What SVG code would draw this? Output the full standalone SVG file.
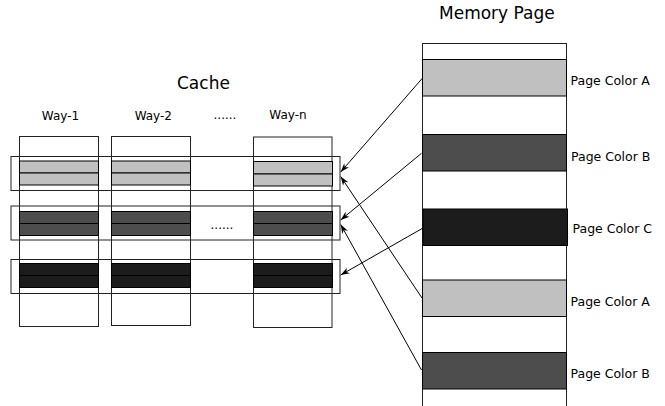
<svg xmlns="http://www.w3.org/2000/svg" width="665" height="406" viewBox="0 0 665 406">
<defs>
<style>
text{font-family:"DejaVu Sans",sans-serif;fill:#000}
.t{font-size:17px}
.w{font-size:12px;text-anchor:middle}
.p{font-size:12.5px}
.col{fill:#fff;stroke:#222;stroke-width:1}
.set{fill:none;stroke:#222;stroke-width:1}
.la{fill:#c0c0c0;stroke:#000;stroke-width:1}
.da{fill:#4d4d4d;stroke:#000;stroke-width:1}
.bk{fill:#1c1c1c;stroke:#000;stroke-width:1}
.ln{stroke:#000;stroke-width:1;fill:none;marker-end:url(#ah)}
</style>
<marker id="ah" viewBox="0 0 10 10" refX="10" refY="5" markerWidth="9" markerHeight="9" markerUnits="userSpaceOnUse" orient="auto">
<path d="M0,1.5 L10,5 L0,8.5 L3,5 Z" fill="#000"/>
</marker>
</defs>
<rect width="665" height="406" fill="#fff"/>
<text class="t" x="439" y="18.5">Memory Page</text>
<text class="t" x="177" y="89">Cache</text>
<g id="way-1">
<text class="w" x="60.5" y="119.5">Way-1</text>
<rect class="col" x="19.5" y="136.5" width="79" height="190"/>
<rect class="la" x="19.5" y="161" width="79" height="12"/>
<rect class="la" x="19.5" y="173" width="79" height="12"/>
<rect class="da" x="19.5" y="211.5" width="79" height="12"/>
<rect class="da" x="19.5" y="223.5" width="79" height="12"/>
<rect class="bk" x="19.5" y="263.5" width="79" height="12"/>
<rect class="bk" x="19.5" y="275.5" width="79" height="12"/>
</g>
<g id="way-2">
<text class="w" x="153.3" y="119.5">Way-2</text>
<rect class="col" x="111.5" y="136.5" width="79" height="189"/>
<rect class="la" x="111.5" y="161" width="79" height="12"/>
<rect class="la" x="111.5" y="173" width="79" height="12"/>
<rect class="da" x="111.5" y="211.5" width="79" height="12"/>
<rect class="da" x="111.5" y="223.5" width="79" height="12"/>
<rect class="bk" x="111.5" y="263.5" width="79" height="12"/>
<rect class="bk" x="111.5" y="275.5" width="79" height="12"/>
</g>
<text class="w" x="225" y="118.5">......</text>
<text class="w" x="222" y="228.5">......</text>
<g id="way-n">
<text class="w" x="288" y="118.5">Way-n</text>
<rect class="col" x="253.5" y="137" width="78.5" height="190.5"/>
<rect class="la" x="253.5" y="161.5" width="79" height="12.5"/>
<rect class="la" x="253.5" y="174" width="79" height="12"/>
<rect class="da" x="253.5" y="211.5" width="79" height="12"/>
<rect class="da" x="253.5" y="223.5" width="79" height="12"/>
<rect class="bk" x="253.5" y="263.5" width="79" height="12"/>
<rect class="bk" x="253.5" y="275.5" width="79" height="12"/>
</g>
<g id="sets">
<rect class="set" x="11" y="156.5" width="329" height="34"/>
<rect class="set" x="11" y="206" width="329" height="34"/>
<rect class="set" x="11" y="259.5" width="329" height="34"/>
</g>
<g id="memory-page">
<rect class="col" x="422.5" y="43.5" width="144" height="370"/>
<rect class="la" x="422.5" y="59.5" width="144" height="36.5"/>
<rect class="da" x="422.5" y="134.5" width="144" height="36.5"/>
<rect class="bk" x="423" y="209" width="144.5" height="36.5"/>
<rect class="la" x="422.5" y="280" width="144" height="36.5"/>
<rect class="da" x="422.5" y="352.5" width="144" height="36.5"/>
<text class="p" x="570.5" y="84.5">Page Color A</text>
<text class="p" x="571" y="160.5">Page Color B</text>
<text class="p" x="572.5" y="233">Page Color C</text>
<text class="p" x="570.5" y="306">Page Color A</text>
<text class="p" x="570.5" y="378">Page Color B</text>
</g>
<g id="connectors">
<line class="ln" x1="422.3" y1="78.3" x2="340.7" y2="172"/>
<line class="ln" x1="422" y1="298" x2="340.7" y2="176.5"/>
<line class="ln" x1="421.5" y1="153.3" x2="340.7" y2="220"/>
<line class="ln" x1="421.5" y1="370" x2="340.7" y2="224.5"/>
<line class="ln" x1="422.5" y1="228.3" x2="340.7" y2="275"/>
</g>
</svg>
